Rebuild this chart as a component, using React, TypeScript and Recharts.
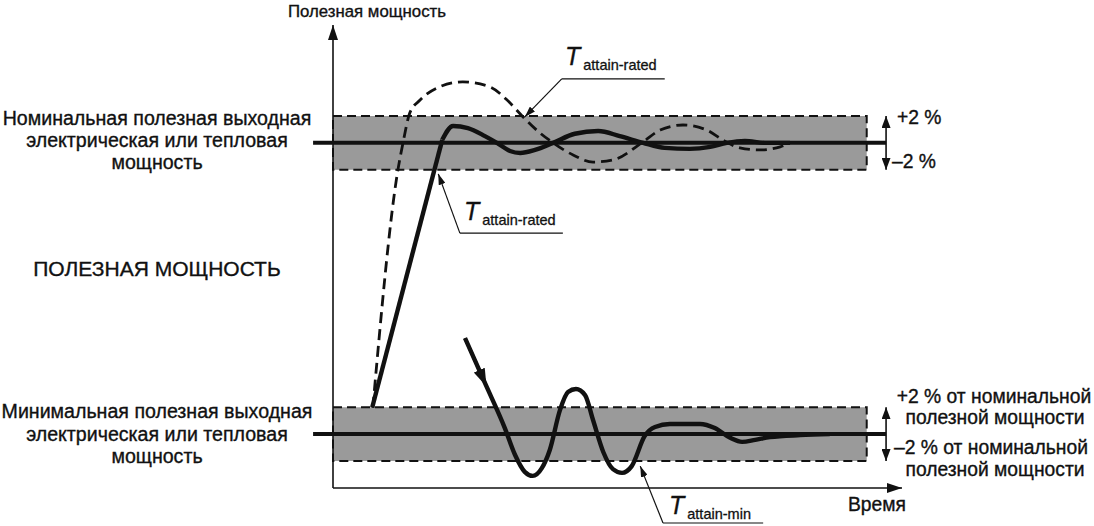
import React from "react";
import { ComposedChart, Line, XAxis, YAxis, ReferenceArea, ReferenceLine } from "recharts";

// levels (power units, nominal = 100)
const nominalLevel = 100;
const minimumLevel = 13.5;
const bandHalf = 8;
const timeDomain = [0, 100];
const powerDomain = [-2.5, 135];

// rated output, solid curve: straight ramp then settling
const rampT = [6.9, 19.2];
const rampP = [21.5, 100.9];
const ratedT = [19.2, 21.1, 23.7, 26.7, 28.8, 31.1, 32.9, 35.5, 38.7, 42.5, 46.6, 50.4, 54.5, 58.3, 62.7, 66.3, 69.2, 72.4, 75.9, 80.3];
const ratedP = [100.9, 105.0, 104.4, 102.0, 100.0, 97.6, 97.0, 97.9, 100.0, 102.7, 103.5, 102.0, 100.0, 98.5, 98.2, 98.8, 100.0, 100.6, 100.0, 100.0];

// rated output, dashed curve (overshoot)
const overT = [7.0, 11.4, 12.3, 13.5, 15.3, 18.3, 22.8, 27.6, 30.6, 33.4, 36.4, 38.7, 42.2, 45.7, 49.2, 54.5, 57.5, 61.5, 65.7, 68.5, 71.5, 75.0, 78.6, 80.3];
const overP = [21.3, 91.9, 100.0, 108.9, 112.7, 116.3, 118.1, 116.6, 112.7, 107.7, 102.9, 100.0, 96.4, 94.3, 94.9, 100.3, 103.8, 105.3, 103.8, 100.9, 98.5, 97.9, 98.8, 100.0];

// minimum output curve
const minT = [23.2, 26.7, 30.2, 32.0, 33.7, 35.1, 36.7, 38.1, 39.9, 41.3, 42.7, 44.3, 45.7, 47.5, 49.2, 50.8, 52.5, 54.8, 56.6, 59.2, 64.5, 67.1, 69.8, 71.9, 74.2, 76.8, 82.1, 87.3];
const minP = [42.0, 28.7, 15.3, 7.3, 2.3, 1.1, 3.4, 8.8, 20.7, 26.0, 26.9, 25.1, 17.7, 8.2, 3.1, 2.0, 4.0, 13.0, 15.6, 16.5, 16.5, 15.3, 12.4, 11.2, 11.8, 12.6, 13.2, 13.5];

const zip = (t: number[], p: number[]) => t.map((v, i) => ({ t: v, p: p[i] }));

const rampData = zip(rampT, rampP);
const ratedData = zip(ratedT, ratedP);
const overData = zip(overT, overP);
const minData = zip(minT, minP);
const minArrowData = minData.slice(0, 2);

// annotation leaders: [underline end, underline start, arrow tip]
const leaderTop = [{ t: 58.3, p: 119.0 }, { t: 40.2, p: 119.0 }, { t: 33.7, p: 107.7 }];
const leaderMid = [{ t: 40.4, p: 73.2 }, { t: 22.3, p: 73.2 }, { t: 18.5, p: 90.8 }];
const leaderMin = [{ t: 75.6, p: -12.9 }, { t: 58.0, p: -12.9 }, { t: 54.0, p: 4.0 }];

const bandEnd = 93.8;
const lineStart = -3.5;
const lineEnd = 97.2;
const ink = "#111";
const font = "'Liberation Sans', Arial, sans-serif";

const Label = ({ x, y, children, align = "center", size = 19.3, style = {} }: any) => (
  <div
    style={{
      position: "absolute",
      left: x,
      top: y,
      transform: align === "center" ? "translate(-50%, -50%)" : "translate(0, -50%)",
      fontSize: size,
      fontFamily: font,
      color: ink,
      WebkitTextStroke: "0.35px #111",
      whiteSpace: "nowrap",
      lineHeight: 1,
      ...style,
    }}
  >
    {children}
  </div>
);

const TLabel = ({ x, y, sub }: any) => (
  <div style={{ position: "absolute", left: x, top: y, fontFamily: font, color: ink, whiteSpace: "nowrap", lineHeight: 1, WebkitTextStroke: "0.3px #111" }}>
    <span style={{ fontStyle: "italic", fontSize: 25 }}>T</span>
    <span style={{ fontSize: 14.5, position: "relative", top: 5, marginLeft: 3 }}>{sub}</span>
  </div>
);

const leader = (pts: { t: number; p: number }[], key: string) => [
  <ReferenceLine key={key + "a"} segment={[{ x: pts[0].t, y: pts[0].p }, { x: pts[1].t, y: pts[1].p }]} stroke={ink} strokeWidth={1.2} ifOverflow="visible" />,
  <ReferenceLine key={key + "b"} segment={[{ x: pts[1].t, y: pts[1].p }, { x: pts[2].t, y: pts[2].p }]} stroke={ink} strokeWidth={1.2} ifOverflow="visible" markerEnd="url(#leaderArrow)" />,
];

export default function App() {
  return (
    <div style={{ position: "absolute", left: 0, top: 0, width: 1094, height: 526, background: "#fff" }}>
      <svg width={0} height={0} style={{ position: "absolute" }}>
        <defs>
          <marker id="axisArrow" markerUnits="userSpaceOnUse" markerWidth={15} markerHeight={10} refX={15} refY={5} orient="auto">
            <path d="M0,0 L15,5 L0,10 z" fill={ink} />
          </marker>
          <marker id="leaderArrow" markerUnits="userSpaceOnUse" markerWidth={11} markerHeight={7} refX={11} refY={3.5} orient="auto">
            <path d="M0,0 L11,3.5 L0,7 z" fill={ink} />
          </marker>
          <marker id="curveArrow" markerUnits="userSpaceOnUse" markerWidth={18} markerHeight={12} refX={14} refY={6} orient="auto">
            <path d="M0,0 L18,6 L0,12 z" fill={ink} />
          </marker>
          <marker id="bandArrow" markerUnits="userSpaceOnUse" markerWidth={12} markerHeight={9} refX={12} refY={4.5} orient="auto-start-reverse">
            <path d="M0,0 L12,4.5 L0,9 z" fill={ink} />
          </marker>
        </defs>
      </svg>
      <ComposedChart width={1094} height={526} margin={{ top: 25, right: 192, bottom: 38, left: 333 }}>
        <XAxis type="number" dataKey="t" domain={timeDomain} allowDataOverflow hide />
        <YAxis type="number" dataKey="p" domain={powerDomain} allowDataOverflow hide />
        <ReferenceArea x1={0} x2={bandEnd} y1={nominalLevel - bandHalf} y2={nominalLevel + bandHalf} fill="#9a9a9a" fillOpacity={1} stroke={ink} strokeWidth={2} strokeDasharray="9 5" ifOverflow="visible" />
        <ReferenceArea x1={0} x2={bandEnd} y1={minimumLevel - bandHalf} y2={minimumLevel + bandHalf} fill="#9a9a9a" fillOpacity={1} stroke={ink} strokeWidth={2} strokeDasharray="9 5" ifOverflow="visible" />
        {/* axes with arrow heads */}
        <ReferenceLine segment={[{ x: timeDomain[0], y: powerDomain[0] }, { x: timeDomain[1], y: powerDomain[0] }]} stroke={ink} strokeWidth={1.6} ifOverflow="visible" markerEnd="url(#axisArrow)" />
        <ReferenceLine segment={[{ x: timeDomain[0], y: powerDomain[0] }, { x: timeDomain[0], y: powerDomain[1] }]} stroke={ink} strokeWidth={1.6} ifOverflow="visible" markerEnd="url(#axisArrow)" />
        <ReferenceLine segment={[{ x: lineStart, y: nominalLevel }, { x: lineEnd, y: nominalLevel }]} stroke={ink} strokeWidth={4} ifOverflow="visible" />
        <ReferenceLine segment={[{ x: lineStart, y: minimumLevel }, { x: lineEnd, y: minimumLevel }]} stroke={ink} strokeWidth={4} ifOverflow="visible" />
        <ReferenceLine segment={[{ x: lineEnd, y: nominalLevel - bandHalf }, { x: lineEnd, y: nominalLevel + bandHalf }]} stroke={ink} strokeWidth={1.6} ifOverflow="visible" markerStart="url(#bandArrow)" markerEnd="url(#bandArrow)" />
        <ReferenceLine segment={[{ x: lineEnd, y: minimumLevel - bandHalf }, { x: lineEnd, y: minimumLevel + bandHalf }]} stroke={ink} strokeWidth={1.6} ifOverflow="visible" markerStart="url(#bandArrow)" markerEnd="url(#bandArrow)" />
        <Line data={overData} dataKey="p" type="monotone" stroke={ink} strokeWidth={2.8} strokeDasharray="11 6" dot={false} activeDot={false} isAnimationActive={false} />
        <Line data={rampData} dataKey="p" type="linear" stroke={ink} strokeWidth={4.4} dot={false} activeDot={false} isAnimationActive={false} />
        <Line data={ratedData} dataKey="p" type="monotone" stroke={ink} strokeWidth={4.4} dot={false} activeDot={false} isAnimationActive={false} />
        <Line data={minData} dataKey="p" type="monotone" stroke={ink} strokeWidth={4.4} dot={false} activeDot={false} isAnimationActive={false} />
        <Line data={minArrowData} dataKey="p" type="linear" stroke={ink} strokeWidth={3} markerEnd="url(#curveArrow)" dot={false} activeDot={false} isAnimationActive={false} />
        {leader(leaderTop, "top")}
        {leader(leaderMid, "mid")}
        {leader(leaderMin, "min")}
      </ComposedChart>

      <Label x={367} y={12} size={16.8}>Полезная мощность</Label>
      <Label x={877} y={505}>Время</Label>
      <Label x={157} y={268} size={21}>ПОЛЕЗНАЯ МОЩНОСТЬ</Label>

      <Label x={157} y={119} size={19.6}>Номинальная полезная выходная</Label>
      <Label x={157} y={141} size={19.6}>электрическая или тепловая</Label>
      <Label x={157} y={163} size={19.6}>мощность</Label>

      <Label x={157} y={412} size={19.6}>Минимальная полезная выходная</Label>
      <Label x={157} y={435} size={19.6}>электрическая или тепловая</Label>
      <Label x={157} y={457} size={19.6}>мощность</Label>

      <Label x={897} y={118} align="left">+2 %</Label>
      <Label x={892} y={162} align="left">–2 %</Label>

      <Label x={994} y={397}>+2 % от номинальной</Label>
      <Label x={995} y={418}>полезной мощности</Label>
      <Label x={991} y={448}>–2 % от номинальной</Label>
      <Label x={995} y={470}>полезной мощности</Label>

      <TLabel x={565} y={44} sub="attain-rated" />
      <TLabel x={464} y={199} sub="attain-rated" />
      <TLabel x={669} y={493} sub="attain-min" />
    </div>
  );
}
